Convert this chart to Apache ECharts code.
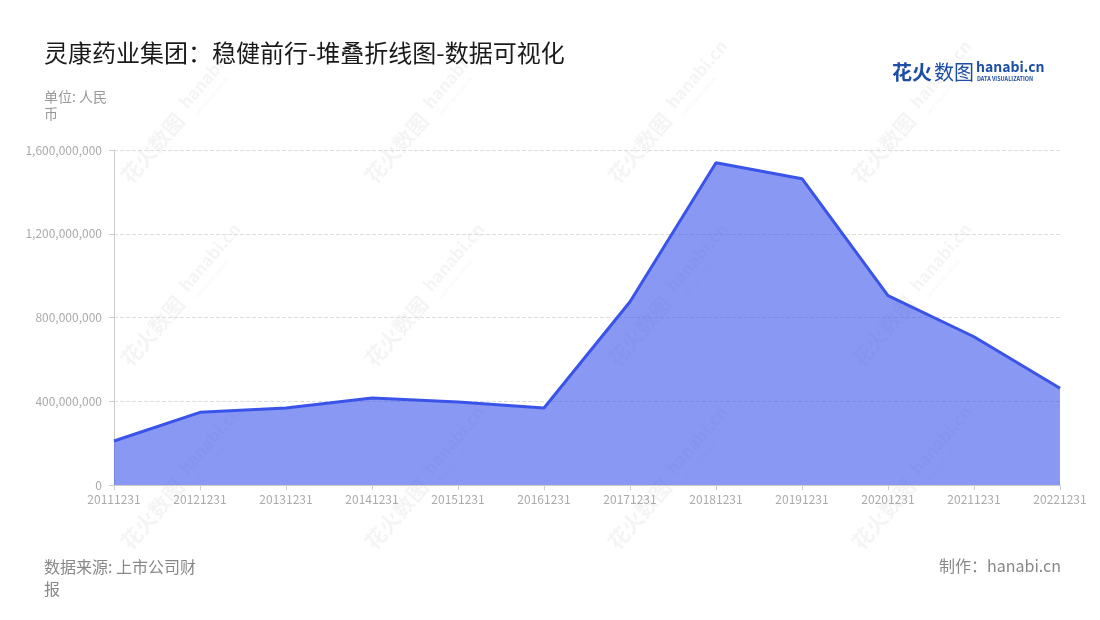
<!DOCTYPE html>
<html>
<head>
<meta charset="utf-8">
<script src="https://cdn.jsdelivr.net/npm/echarts@6/dist/echarts.min.js"></script>
<style>html,body{margin:0;padding:0;background:#fff}#main{width:1100px;height:620px}</style>
</head>
<body>
<div id="main"></div>
<script>
var categories = ['20111231','20121231','20131231','20141231','20151231','20161231','20171231','20181231','20191231','20201231','20211231','20221231'];
var values = [210000000, 347000000, 368000000, 415000000, 396000000, 368000000, 875000000, 1539000000, 1463000000, 904000000, 708000000, 462000000];
var seriesName = '灵康药业集团';
var titleText = '灵康药业集团：稳健前行-堆叠折线图-数据可视化';
var unitText = '单位: 人民币';
var sourceText = '数据来源: 上市公司财报';
var makerText = '制作：hanabi.cn';

var FONT = '"Noto Sans CJK SC","Noto Sans",sans-serif';

function fmt(v){ return String(v).replace(/\B(?=(\d{3})+(?!\d))/g, ','); }

var wmGraphics = [];
var wmCols = [133, 377, 620, 864];
var wmRows = [187, 370, 553];
wmRows.forEach(function(y){
  wmCols.forEach(function(x){
    wmGraphics.push({
      type: 'group', x: x, y: y, rotation: 0.86, z: 100, silent: true,
      children: [
        {type:'text', x:0, y:0, style:{text:'花火数图', font:'bold 21px ' + FONT, fill:'rgba(0,0,0,0.045)', textVerticalAlign:'bottom'}},
        {type:'text', x:94, y:-7, style:{text:'hanabi.cn', font:'bold 17px ' + FONT, fill:'rgba(0,0,0,0.045)', textVerticalAlign:'bottom'}},
        {type:'text', x:96, y:3, style:{text:'DATA VISUALIZATION', font:'5px ' + FONT, fill:'rgba(0,0,0,0.05)', textVerticalAlign:'bottom'}}
      ]
    });
  });
});

var logo = [
  {type:'text', left: 892, top: 62, z: 101, style:{text:'花火', font:'bold 20px ' + FONT, fill:'#1d4ea6'}},
  {type:'text', left: 934, top: 62, z: 101, style:{text:'数图', font:'20px ' + FONT, fill:'#1d4ea6'}},
  {type:'text', left: 976, top: 60, z: 101, style:{text:'hanabi.cn', font:'bold 14px ' + FONT, fill:'#1d4ea6'}},
  {type:'text', left: 977, top: 76, z: 101, style:{text:'DATA VISUALIZATION', font:'bold 5.5px ' + FONT, fill:'#1d4ea6'}}
];

var chart = echarts.init(document.getElementById('main'));
chart.setOption({
  backgroundColor: '#fff',
  animation: false,
  title: [
    {text: titleText, left: 39, top: 36, textStyle:{fontFamily: FONT, fontSize: 24, fontWeight: 'normal', color: '#1a1a1a'}},
    {text: unitText, left: 39, top: 83, textStyle:{fontFamily: FONT, fontSize: 14, fontWeight: 'normal', color: '#999', width: 68, overflow: 'break', lineHeight: 17}},
    {text: sourceText, left: 39, top: 551, textStyle:{fontFamily: FONT, fontSize: 16, fontWeight: 'normal', color: '#888', width: 164, overflow: 'break', lineHeight: 22}},
    {text: makerText, right: 34, top: 553, textStyle:{fontFamily: FONT, fontSize: 16, fontWeight: 'normal', color: '#888'}}
  ],
  grid: {left: 114, right: 40, top: 150, bottom: 135, containLabel: false},
  xAxis: {
    type: 'category', data: categories, boundaryGap: false,
    axisLine: {lineStyle: {color: '#ccc'}},
    axisTick: {alignWithLabel: true, lineStyle: {color: '#ccc'}},
    axisLabel: {color: '#aaa', fontSize: 12, fontFamily: FONT, interval: 0, margin: 8}
  },
  yAxis: {
    type: 'value', min: 0, max: 1600000000, interval: 400000000,
    axisLine: {show: true, lineStyle: {color: '#ccc'}},
    axisTick: {show: true, lineStyle: {color: '#ccc'}},
    axisLabel: {color: '#aaa', fontSize: 12, fontFamily: FONT, formatter: fmt, margin: 12},
    splitLine: {lineStyle: {color: '#ddd', type: 'dashed'}}
  },
  series: [{
    name: seriesName, type: 'line', data: values, stack: 'total',
    symbol: 'none', smooth: false,
    lineStyle: {color: '#3a54e9', width: 3},
    itemStyle: {color: '#3a54e9'},
    areaStyle: {color: '#3a54e9', opacity: 0.6}
  }],
  graphic: wmGraphics.concat(logo)
});
</script>
</body>
</html>
